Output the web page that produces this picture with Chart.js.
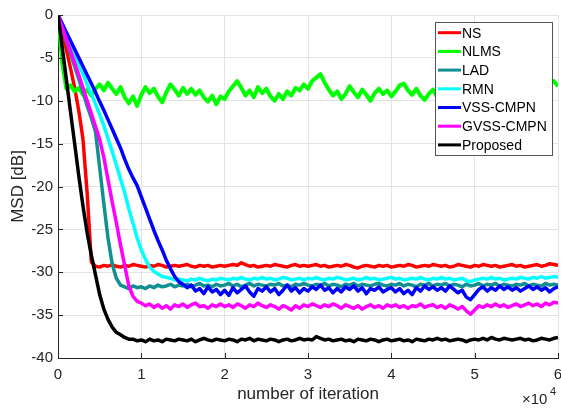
<!DOCTYPE html>
<html>
<head>
<meta charset="utf-8">
<script src="https://cdn.jsdelivr.net/npm/chart.js@4"></script>
<style>
    html, body { margin: 0; padding: 0; background: #fff; }
    #box { width: 561px; height: 409px; }
</style>
</head>
<body>
<div id="box"><canvas id="canvasGrafico"></canvas></div>
<script>
// MSD curves, one value every 500 iterations (0 .. 60000)
const nsMsd = [
    0, -2.0, -4.0, -6.2, -8.5, -11.2, -14.5, -20.8, -28.8, -29.3,
    -29.4, -29.2, -29.3, -29.1, -29.3, -29.4, -29.2, -29.3, -29.1, -29.2,
    -29.3, -29.4, -29.2, -29.3, -29.1, -29.2, -29.4, -29.3, -29.2, -29.3,
    -29.2, -29.1, -29.3, -29.4, -29.2, -29.3, -29.2, -29.4, -29.3, -29.2,
    -29.3, -29.2, -29.1, -29.2, -28.9, -29.1, -29.3, -29.2, -29.4, -29.3,
    -29.2, -29.3, -29.1, -29.2, -29.3, -29.4, -29.2, -29.1, -29.3, -29.2,
    -29.3, -29.2, -29.1, -29.3, -29.2, -29.4, -29.3, -29.2, -29.3, -29.1,
    -29.2, -29.4, -29.5, -29.3, -29.2, -29.3, -29.4, -29.2, -29.3, -29.2,
    -29.4, -29.3, -29.2, -29.3, -29.1, -29.2, -29.4, -29.3, -29.2, -29.3,
    -29.1, -29.2, -29.3, -29.2, -29.4, -29.3, -29.1, -29.2, -29.3, -29.4,
    -29.2, -29.3, -29.1, -29.2, -29.3, -29.2, -29.4, -29.3, -29.2, -29.1,
    -29.3, -29.2, -29.4, -29.3, -29.2, -29.1, -29.3, -29.2, -29.0, -29.1, -29.2
];
const nlmsMsd = [
    0, -5.5, -8.6, -8.2, -8.9, -8.5, -9.3, -8.7, -9.4, -8.6,
    -8.1, -8.8, -7.9, -8.6, -9.2, -8.4, -9.6, -10.3, -9.5, -10.6,
    -9.3, -8.4, -9.1, -8.6, -9.5, -10.2, -9.0, -8.1, -8.7, -9.4,
    -8.5, -9.2, -8.6, -9.3, -8.8, -9.6, -10.1, -9.4, -10.4, -9.5,
    -9.8, -8.9, -8.3, -7.7, -8.5, -9.4, -8.8, -9.6, -8.4, -9.1,
    -8.6, -9.5, -10.0, -9.2, -9.8, -8.9, -9.4, -8.5, -8.8, -8.1,
    -8.6, -7.7, -7.3, -6.9, -7.9, -8.7, -9.4, -8.9, -9.8, -9.2,
    -8.3, -9.0, -9.6, -8.7, -9.3, -10.0, -9.1, -8.6, -9.2, -8.8,
    -9.5, -8.9, -8.2, -8.0, -8.8, -9.3, -8.6, -9.4, -9.9, -9.2,
    -8.7, -9.6, -8.9, -9.4, -8.5, -9.1, -9.7, -10.2, -9.4, -10.0,
    -9.3, -8.8, -9.5, -8.7, -9.2, -8.4, -9.0, -9.6, -8.8, -9.3,
    -8.7, -9.5, -10.0, -9.1, -9.6, -8.9, -9.4, -8.7, -8.1, -7.7, -8.3
];
const ladMsd = [
    0, -1.5, -3.0, -4.5, -6.0, -7.5, -9.0, -10.6, -12.0, -13.6,
    -17.8, -22.0, -26.0, -29.0, -30.7, -31.5, -31.7, -31.9, -31.6, -31.8,
    -31.7, -31.9, -31.6, -31.8, -31.5, -31.7, -31.6, -31.4, -31.7, -31.5,
    -31.6, -31.4, -31.7, -31.5, -31.3, -31.6, -31.5, -31.7, -31.4, -31.6,
    -31.5, -31.3, -31.6, -31.4, -31.7, -31.5, -31.3, -31.6, -31.4, -31.5,
    -31.6, -31.4, -31.5, -31.3, -31.6, -31.5, -31.7, -31.4, -31.5, -31.3,
    -31.5, -31.6, -31.4, -31.5, -31.3, -31.6, -31.4, -31.5, -31.7, -31.4,
    -31.5, -31.3, -31.6, -31.4, -31.5, -31.6, -31.4, -31.3, -31.5, -31.6,
    -31.4, -31.5, -31.3, -31.6, -31.4, -31.5, -31.7, -31.4, -31.5, -31.3,
    -31.6, -31.4, -31.5, -31.3, -31.6, -31.4, -31.5, -31.7, -31.4, -31.6,
    -31.5, -31.3, -31.6, -31.4, -31.5, -31.3, -31.6, -31.4, -31.5, -31.6,
    -31.4, -31.5, -31.3, -31.6, -31.4, -31.5, -31.6, -31.3, -31.5, -31.4, -31.5
];
const rmnMsd = [
    0, -1.15, -2.3, -3.5, -4.6, -5.8, -6.9, -8.1, -9.2, -10.4,
    -11.6, -12.9, -14.4, -15.9, -17.5, -19.1, -20.7, -22.6, -24.3, -26.0,
    -27.4, -28.5, -29.4, -29.9, -30.2, -30.5, -30.6, -30.7, -30.9, -30.8,
    -30.9, -31.0, -30.8, -30.9, -30.7, -30.9, -31.0, -30.8, -30.9, -30.7,
    -30.8, -30.9, -30.7, -30.8, -30.6, -30.8, -30.9, -30.7, -30.8, -30.6,
    -30.8, -30.7, -30.9, -30.8, -30.6, -30.7, -30.9, -30.8, -30.7, -30.9,
    -30.7, -30.8, -30.6, -30.8, -30.9, -30.7, -30.8, -30.6, -30.7, -30.9,
    -30.8, -30.7, -30.9, -30.8, -30.6, -30.8, -30.7, -30.9, -30.8, -30.7,
    -30.6, -30.8, -30.7, -30.9, -30.8, -30.7, -30.8, -30.6, -30.8, -30.9,
    -30.7, -30.8, -30.6, -30.8, -30.7, -30.9, -30.8, -30.7, -31.0, -31.1,
    -30.9, -30.8, -30.7, -30.8, -30.6, -30.8, -30.7, -30.9, -30.8, -30.7,
    -30.8, -30.6, -30.7, -30.8, -30.6, -30.7, -30.5, -30.7, -30.6, -30.5, -30.6
];
const vssMsd = [
    0, -1.0, -2.0, -3.0, -4.0, -5.0, -6.0, -7.0, -8.0, -9.0,
    -10.1, -11.1, -12.2, -13.3, -14.4, -15.5, -16.8, -18.0, -19.0, -19.9,
    -21.2, -22.5, -23.8, -25.1, -26.3, -27.4, -28.6, -29.6, -30.5, -31.1,
    -31.4, -31.8, -31.5, -32.2, -31.9, -32.5, -31.7, -32.3, -32.0, -32.6,
    -32.1, -32.7, -31.8, -32.4, -32.0, -31.6, -32.3, -32.8, -31.9, -32.2,
    -31.7, -32.3, -31.9, -32.6, -32.1, -31.5, -32.2, -31.8, -32.4, -31.9,
    -32.2, -31.7, -32.0, -31.5, -32.1, -31.8, -32.4, -31.9, -32.3, -31.7,
    -32.0, -31.6, -32.2, -31.8, -32.5, -31.9, -32.1, -31.7, -32.3, -32.0,
    -31.8, -32.3, -31.9, -32.5, -32.1, -32.6, -31.8, -32.2, -31.6, -32.0,
    -31.7, -32.1, -31.8, -32.2, -31.6, -32.0, -32.4, -32.1, -32.9, -33.2,
    -32.6, -32.0, -31.7, -32.2, -31.8, -32.1, -31.6, -32.0, -31.7, -32.1,
    -31.8, -32.2, -31.9, -31.6, -32.0, -31.7, -32.1, -31.8, -32.3, -31.9, -31.7
];
const gvssMsd = [
    0, -1.4, -2.8, -4.2, -5.6, -7.0, -8.5, -10.0, -11.5, -13.0,
    -14.5, -16.6, -19.2, -21.8, -24.2, -26.8, -29.2, -31.6, -32.8, -33.4,
    -33.6, -33.9, -33.7, -34.1, -33.8, -34.2, -33.9, -34.3, -33.8, -34.0,
    -33.7, -34.1, -33.8, -33.6, -34.0, -33.9, -34.2, -33.8, -34.0, -33.7,
    -34.0, -33.8, -34.1, -33.7, -33.9, -34.2, -33.8, -34.0, -33.6, -33.9,
    -34.1, -33.8, -34.0, -34.3, -33.9, -34.1, -34.4, -33.9, -34.2, -33.8,
    -34.0, -33.7, -33.9, -34.1, -33.8, -34.0, -33.7, -33.9, -34.2, -33.8,
    -34.0, -34.2, -33.9, -34.3, -34.0, -33.8, -34.1, -33.9, -34.2, -33.8,
    -34.0, -33.8, -34.1, -33.9, -34.2, -33.9, -34.0, -33.7, -34.1, -33.9,
    -33.8, -34.1, -33.9, -34.2, -33.8, -34.0, -34.3, -34.0, -34.5, -34.9,
    -34.4, -33.9, -34.1, -33.8, -34.0, -33.7, -34.0, -33.8, -34.1, -33.9,
    -33.7, -34.0, -33.8, -33.6, -33.9, -33.7, -34.0, -33.6, -33.8, -33.5, -33.6
];
const proposedMsd = [
    0, -3.7, -7.5, -11.3, -15.0, -18.8, -22.3, -25.4, -28.0, -30.3,
    -32.6, -34.3, -35.5, -36.4, -37.0, -37.3, -37.6, -37.8, -37.8, -38.0,
    -37.9, -38.1, -37.8, -38.0, -37.9, -38.1, -37.8, -37.9, -38.0, -37.8,
    -37.9, -38.0, -37.8, -38.1, -37.9, -37.7, -37.9, -38.0, -37.8, -37.9,
    -38.0, -37.8, -37.9, -38.1, -37.8, -37.9, -37.7, -38.0, -37.8, -37.9,
    -38.0, -37.8, -37.9, -38.1, -37.9, -37.8, -38.0, -37.9, -37.7, -37.9,
    -37.8, -37.9, -37.5, -37.7, -37.9, -37.8, -38.0, -37.9, -37.8, -38.0,
    -37.9, -38.1, -37.8, -37.9, -38.0, -37.8, -37.9, -38.1, -37.9, -37.8,
    -38.0, -37.9, -37.8, -38.0, -37.9, -38.1, -37.8, -37.9, -38.0, -37.8,
    -37.9, -37.7, -37.9, -37.8, -38.0, -37.9, -37.8, -37.9, -38.1, -37.9,
    -37.8, -37.9, -37.7, -37.9, -37.6, -37.8, -37.9, -37.7, -37.8, -37.9,
    -37.8, -37.7, -37.9, -37.8, -38.0, -37.9, -37.7, -37.8, -37.9, -37.7, -37.6
];

const algorithms = ["NS", "NLMS", "LAD", "RMN", "VSS-CMPN", "GVSS-CMPN", "Proposed"];
const curveColors = ["#ff0000", "#00ff00", "#128f8f", "#00ffff", "#0000ff", "#ff00ff", "#000000"];
const series = [nsMsd, nlmsMsd, ladMsd, rmnMsd, vssMsd, gvssMsd, proposedMsd];
const stepIter = 500;

const FONT = "'Liberation Sans', Arial, Helvetica, sans-serif";
const AX_COLOR = "#262626";

// legend box + x10^4 exponent + inward ticks, drawn like matlab
const extras = {
    id: "extras",
    afterDraw(chart) {
        const ctx = chart.ctx;
        const area = chart.chartArea;
        const xs = chart.scales.x, ys = chart.scales.y;
        ctx.save();

        // inward tick marks
        ctx.strokeStyle = AX_COLOR;
        ctx.lineWidth = 1;
        ctx.beginPath();
        for (let v = 0; v <= 60000; v += 10000) {
            const px = Math.round(xs.getPixelForValue(v)) + 0.5;
            ctx.moveTo(px, area.bottom);
            ctx.lineTo(px, area.bottom - 5);
        }
        for (let v = -40; v <= 0; v += 5) {
            const py = Math.round(ys.getPixelForValue(v)) + 0.5;
            ctx.moveTo(area.left, py);
            ctx.lineTo(area.left + 5, py);
        }
        ctx.stroke();

        // exponent
        ctx.fillStyle = AX_COLOR;
        ctx.textBaseline = "middle";
        ctx.textAlign = "left";
        ctx.font = "15px " + FONT;
        ctx.fillText("\u00d710", 522, 400);
        ctx.font = "11px " + FONT;
        ctx.fillText("4", 550, 392);

        // legend
        const lx = 435, ly = 22, lw = 117, lh = 133;
        ctx.fillStyle = "#ffffff";
        ctx.fillRect(lx, ly, lw, lh);
        ctx.strokeStyle = "#555555";
        ctx.strokeRect(lx + 0.5, ly + 0.5, lw, lh);
        ctx.font = "14px " + FONT;
        algorithms.forEach((name, i) => {
            const y = 32.7 + i * 18.7;
            ctx.strokeStyle = curveColors[i];
            ctx.lineWidth = 3;
            ctx.beginPath();
            ctx.moveTo(438, y);
            ctx.lineTo(461, y);
            ctx.stroke();
            ctx.fillStyle = "#000000";
            ctx.fillText(name, 462, y + 1);
        });
        ctx.restore();
    }
};

const datasets = series.map((vals, i) => ({
    label: algorithms[i],
    data: vals.map((v, k) => ({ x: k * stepIter, y: v })),
    borderColor: curveColors[i],
    backgroundColor: curveColors[i],
    borderWidth: i === 1 ? 4 : 3.5,
    borderJoinStyle: "round",
    pointRadius: 0,
    tension: 0,
    order: 20 - i
}));

new Chart(document.getElementById("canvasGrafico"), {
    type: "line",
    data: { datasets: datasets },
    options: {
        responsive: true,
        maintainAspectRatio: false,
        animation: false,
        layout: { padding: { left: 0, right: 3, top: 15, bottom: 0 } },
        plugins: {
            legend: { display: false },
            tooltip: { enabled: false }
        },
        scales: {
            x: {
                type: "linear",
                min: 0,
                max: 60000,
                afterFit(scale) {
                    scale.height = 51;
                    scale.paddingLeft = 0;
                    scale.paddingRight = 0;
                },
                ticks: {
                    stepSize: 10000,
                    maxRotation: 0,
                    padding: 8,
                    color: AX_COLOR,
                    font: { family: FONT, size: 15 },
                    callback: v => v / 10000
                },
                grid: { color: "#e3e3e3", drawTicks: false },
                border: { color: AX_COLOR, width: 1 },
                title: {
                    display: true,
                    text: "number of iteration",
                    color: AX_COLOR,
                    font: { family: FONT, size: 17 },
                    padding: { top: 0, bottom: 4 }
                }
            },
            y: {
                min: -40,
                max: 0,
                afterFit(scale) {
                    scale.width = 58;
                    scale.paddingTop = 0;
                    scale.paddingBottom = 0;
                },
                ticks: {
                    stepSize: 5,
                    padding: 5,
                    color: AX_COLOR,
                    font: { family: FONT, size: 15 }
                },
                grid: { color: "#e3e3e3", drawTicks: false },
                border: { color: AX_COLOR, width: 1 },
                title: {
                    display: true,
                    text: "MSD [dB]",
                    color: AX_COLOR,
                    font: { family: FONT, size: 17 },
                    padding: { top: 8, bottom: 0 }
                }
            }
        }
    },
    plugins: [extras]
});
</script>
</body>
</html>
